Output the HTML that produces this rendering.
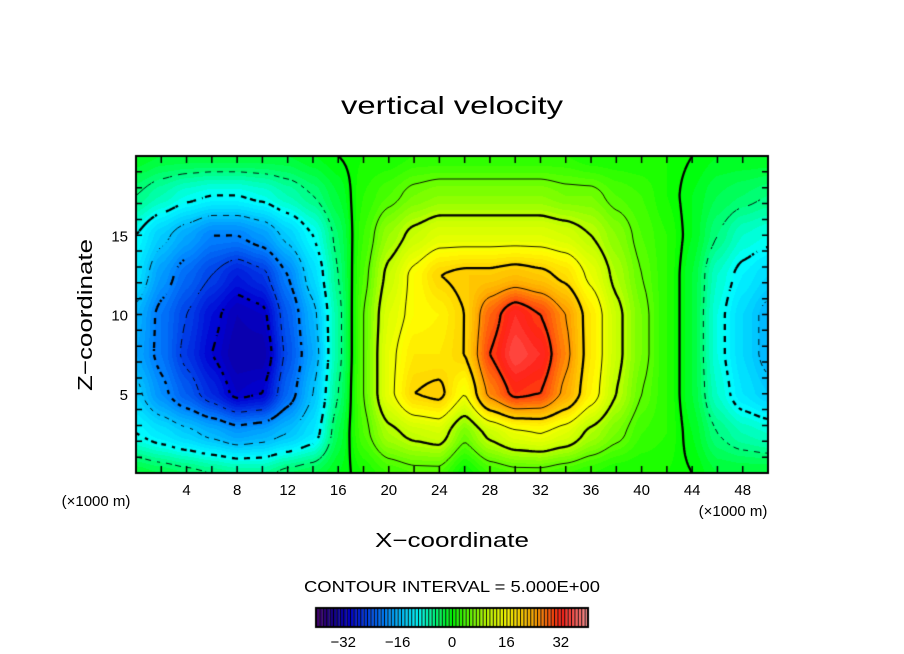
<!DOCTYPE html>
<html><head><meta charset="utf-8">
<style>
html,body{margin:0;padding:0;background:#fff;}
#wrap{position:relative;width:904px;height:654px;overflow:hidden;font-family:"Liberation Sans",sans-serif;}
canvas,svg{position:absolute;left:0;top:0;}
</style></head>
<body>
<div id="wrap">
<canvas id="cv" width="904" height="654"></canvas>
<svg id="sv" width="904" height="654">
<text x="452" y="114" text-anchor="middle" font-size="25" textLength="222" lengthAdjust="spacingAndGlyphs">vertical velocity</text>
<text transform="translate(92,315) rotate(-90)" text-anchor="middle" font-size="20" textLength="152" lengthAdjust="spacingAndGlyphs">Z−coordinate</text>
<text x="452" y="547" text-anchor="middle" font-size="20" textLength="154" lengthAdjust="spacingAndGlyphs">X−coordinate</text>
<text x="96" y="506" text-anchor="middle" font-size="15">(×1000 m)</text>
<text x="733" y="516" text-anchor="middle" font-size="15">(×1000 m)</text>
<text x="452" y="592" text-anchor="middle" font-size="16" textLength="296" lengthAdjust="spacingAndGlyphs">CONTOUR INTERVAL = 5.000E+00</text>
<g id="xt"></g><g id="yt"></g><g id="cbt"></g>
</svg>
</div>
<script>
// grid: x = 0..50 step 2 km, z = 0..20 step 2.5 km (rows bottom to top)
const xCoords=[0,2,4,6,8,10,12,14,16,18,20,22,24,26,28,30,32,34,36,38,40,42,44,46,48,50];
const zCoords=[0,2.5,5,7.5,10,12.5,15,17.5,20];
const row0=[-2,-3,-4,-5,-6,-6,-4,-3,-1,1,3,4,4,0,3,4,4,3,2,1,1,1,0,-2,-2,-2];
const row1=[-10,-12,-14,-16,-18,-17,-15,-12,-3,4,9,11,12,6,11,14,15,13,9,6,3,2,-1,-5,-7,-8];
const row2=[-14,-19,-23,-27,-31,-30,-22,-15,-5,5,14,20,21,15,26,31,30,24,17,10,5,2,-2,-8,-12,-14];
const row3=[-17,-21,-26,-30,-33,-33,-24,-17,-6,5,14,18,18,20,30,35,33,26,18,11,6,2,-2,-9,-13,-16];
const row4=[-16,-21,-25,-29,-32,-31,-23,-16,-6,5,13,16,17,20,28,33,30,25,18,11,6,2,-2,-9,-13,-16];
const row5=[-12,-18,-22,-25,-28,-26,-20,-13,-5,4,11,16,20,21,21,22,21,19,14,9,5,2,-2,-8,-11,-13];
const row6=[-10,-14,-17,-20,-20,-18,-14,-10,-4,3,8,11,13,13,13,13,13,12,10,7,4,2,-1,-5,-8,-9];
const row7=[-5,-7,-9,-10,-10,-9,-7,-5,-2,2,4,6,7,7,7,7,7,6,6,4,3,1,-1,-3,-4,-5];
const row8=[-1,-2,-2,-2,-2,-2,-2,-1,0,1,1,2,2,2,2,2,2,2,1,1,1,1,0,-1,-1,-1];
const rows=[row0,row1,row2,row3,row4,row5,row6,row7,row8];
const xTicks=[4,8,12,16,20,24,28,32,36,40,44,48];
const zTicks=[5,10,15];
const cbTicks=[-32,-16,0,16,32];
const levels=[-35,-30,-25,-20,-15,-10,-5,0,5,10,15,20,25,30,35];

const PL=136,PR=768,PT=156,PB=473,XMAX=50,ZMAX=20;
const sx=x=>PL+(x/XMAX)*(PR-PL);
const sz=z=>PB-(z/ZMAX)*(PB-PT);
function field(x,z){
  let fx=x/2, fz=z/2.5;
  let i=Math.min(Math.floor(fx),xCoords.length-2), j=Math.min(Math.floor(fz),zCoords.length-2);
  let tx=fx-i, tz=fz-j;
  tx=tx*tx*(3-2*tx)*0.5+tx*0.5; tz=tz*tz*(3-2*tz)*0.5+tz*0.5;
  const a=rows[j][i],b=rows[j][i+1],c=rows[j+1][i],d=rows[j+1][i+1];
  return (a*(1-tx)+b*tx)*(1-tz)+(c*(1-tx)+d*tx)*tz;
}
const stops=[[-40,[70,0,110]],[-35,[20,0,140]],[-30,[0,0,210]],[-20,[0,130,255]],[-10,[0,255,255]],[0,[0,255,0]],[10,[190,255,0]],[16,[255,255,0]],[24,[255,170,0]],[32,[255,30,20]],[40,[255,150,150]]];
function cmap(v){
  v=Math.floor(v)+0.5;
  if(v<=stops[0][0])return stops[0][1];
  for(let k=1;k<stops.length;k++){if(v<=stops[k][0]){const t=(v-stops[k-1][0])/(stops[k][0]-stops[k-1][0]);const A=stops[k-1][1],B=stops[k][1];return [0,1,2].map(q=>Math.round(A[q]+(B[q]-A[q])*t));}}
  return stops[stops.length-1][1];
}
const cv=document.getElementById('cv');const ctx=cv.getContext('2d');
const W=PR-PL,H=PB-PT;
const img=ctx.createImageData(W,H);
for(let py=0;py<H;py++)for(let px=0;px<W;px++){
  const x=(px+0.5)/W*XMAX,z=(H-py-0.5)/H*ZMAX;const c=cmap(field(x,z));const o=(py*W+px)*4;
  img.data[o]=c[0];img.data[o+1]=c[1];img.data[o+2]=c[2];img.data[o+3]=255;}
ctx.putImageData(img,PL,PT);
// contours via marching squares
const step=3,nx=Math.ceil(W/step),nz=Math.ceil(H/step);
const G=[];for(let j=0;j<=nz;j++){G[j]=[];for(let i=0;i<=nx;i++){G[j][i]=field(Math.min(i*step,W)/W*XMAX,(H-Math.min(j*step,H))/H*ZMAX);}}
ctx.save();ctx.beginPath();ctx.rect(PL,PT,W,H);ctx.clip();
levels.forEach(L=>{
  ctx.strokeStyle='#000';ctx.lineWidth=(L%10===0)?2.3:0.9;
  ctx.beginPath();
  for(let j=0;j<nz;j++)for(let i=0;i<nx;i++){
    if(L<0 && Math.floor((i+j)/2)%2===1) continue;
    const v=[G[j][i],G[j][i+1],G[j+1][i+1],G[j+1][i]];
    const P=[[i,j],[i+1,j],[i+1,j+1],[i,j+1]];
    const pts=[];
    for(let e=0;e<4;e++){const a=v[e],b=v[(e+1)%4];if((a<L)!==(b<L)){const t=(L-a)/(b-a);const p=P[e],q=P[(e+1)%4];pts.push([PL+(p[0]+(q[0]-p[0])*t)*step,PT+(p[1]+(q[1]-p[1])*t)*step]);}}
    for(let k=0;k+1<pts.length;k+=2){ctx.moveTo(pts[k][0],pts[k][1]);ctx.lineTo(pts[k+1][0],pts[k+1][1]);}
  }
  ctx.stroke();
});
ctx.restore();
// frame & ticks
ctx.strokeStyle='#000';ctx.lineWidth=2;ctx.strokeRect(PL,PT,W,H);
ctx.lineWidth=1.5;ctx.beginPath();
for(let x=2;x<XMAX;x+=2){const X=sx(x);ctx.moveTo(X,PB);ctx.lineTo(X,PB-7);ctx.moveTo(X,PT);ctx.lineTo(X,PT+7);}
for(let z=1;z<ZMAX;z+=1){const Y=sz(z);ctx.moveTo(PL,Y);ctx.lineTo(PL+6,Y);ctx.moveTo(PR,Y);ctx.lineTo(PR-6,Y);}
ctx.stroke();
// colorbar
const CL=316,CR=588,CT=608,CB=627,VMIN=-40,VMAX=40;
const cbx=v=>CL+(v-VMIN)/(VMAX-VMIN)*(CR-CL);
for(let v=VMIN;v<VMAX;v++){const c=cmap(v);ctx.fillStyle=`rgb(${c[0]},${c[1]},${c[2]})`;ctx.fillRect(cbx(v),CT,cbx(v+1)-cbx(v),CB-CT);
  ctx.fillStyle='#000';ctx.fillRect(cbx(v),CT,1,CB-CT);}
ctx.lineWidth=2;ctx.strokeRect(CL,CT,CR-CL,CB-CT);
const NS='http://www.w3.org/2000/svg';
const xt=document.getElementById('xt');
xTicks.forEach(t=>{const e=document.createElementNS(NS,'text');e.setAttribute('x',sx(t));e.setAttribute('y',495);e.setAttribute('text-anchor','middle');e.setAttribute('font-size','15');e.textContent=t;


xt.appendChild(e);});
const yt=document.getElementById('yt');
zTicks.forEach(t=>{const e=document.createElementNS(NS,'text');e.setAttribute('x',128);e.setAttribute('y',sz(t)+6);e.setAttribute('text-anchor','end');e.setAttribute('font-size','15');e.textContent=t;


yt.appendChild(e);});
const cbt=document.getElementById('cbt');
cbTicks.forEach(t=>{const e=document.createElementNS(NS,'text');e.setAttribute('x',cbx(t));e.setAttribute('y',647);e.setAttribute('text-anchor','middle');e.setAttribute('font-size','15');e.textContent=(t<0?'−':'')+Math.abs(t);


cbt.appendChild(e);});
</script>
</body></html>
